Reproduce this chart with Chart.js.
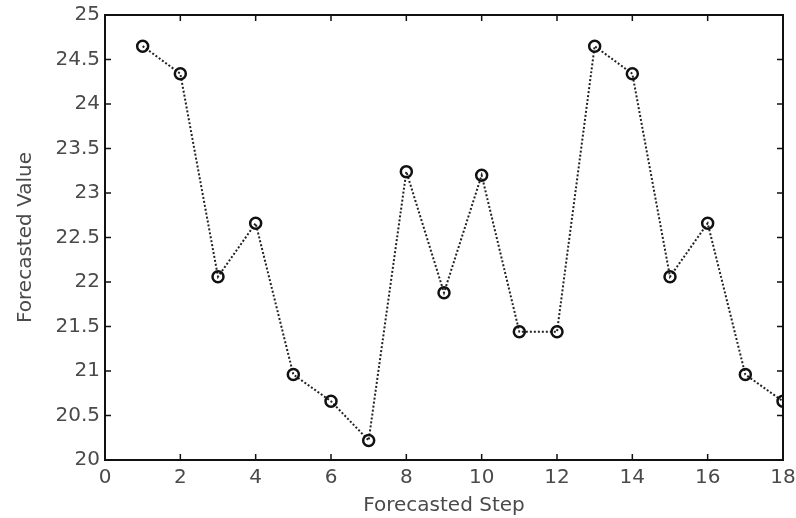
<!DOCTYPE html>
<html lang="en">
<head>
    <meta charset="UTF-8">
    <title>Forecasted Value</title>
    <script src="https://cdn.jsdelivr.net/npm/chart.js"></script>
    <style>
        html, body { margin: 0; padding: 0; background: #fff; overflow: hidden; }
        #wrap { width: 796px; height: 518px; }
    </style>
</head>
<body>
    <div id="wrap"><canvas id="forecastChart"></canvas></div>

    <script>
        // Data
        const steps = [1, 2, 3, 4, 5, 6, 7, 8, 9, 10, 11, 12, 13, 14, 15, 16, 17, 18];
        const forecastValues = [24.65, 24.34, 22.06, 22.66, 20.96, 20.66, 20.22, 23.24, 21.88,
                                23.2, 21.44, 21.44, 24.65, 24.34, 22.06, 22.66, 20.96, 20.66];
        const xTicks = [0, 2, 4, 6, 8, 10, 12, 14, 16, 18];
        const yTicks = [20, 20.5, 21, 21.5, 22, 22.5, 23, 23.5, 24, 24.5, 25];

        const textColor = '#4a4a4a';
        const fontFamily = '"DejaVu Sans", Arial, sans-serif';

        // box around the plot with ticks pointing inward (matlab style)
        const boxTicks = {
            id: 'boxTicks',
            afterDraw(chart) {
                const { ctx, chartArea: a, scales: { x, y } } = chart;
                const len = 6;
                ctx.save();
                ctx.strokeStyle = '#111';
                ctx.lineWidth = 2;
                ctx.strokeRect(a.left, a.top, a.right - a.left, a.bottom - a.top);
                ctx.lineWidth = 1.5;
                ctx.beginPath();
                xTicks.forEach(v => {
                    const px = x.getPixelForValue(v);
                    ctx.moveTo(px, a.bottom); ctx.lineTo(px, a.bottom - len);
                    ctx.moveTo(px, a.top); ctx.lineTo(px, a.top + len);
                });
                yTicks.forEach(v => {
                    const py = y.getPixelForValue(v);
                    ctx.moveTo(a.left, py); ctx.lineTo(a.left + len, py);
                    ctx.moveTo(a.right, py); ctx.lineTo(a.right - len, py);
                });
                ctx.stroke();
                ctx.restore();
            }
        };

        const ctx = document.getElementById('forecastChart').getContext('2d');
        const chart = new Chart(ctx, {
            type: 'line',
            data: {
                datasets: [{
                    label: 'Forecast',
                    data: steps.map((s, i) => ({ x: s, y: forecastValues[i] })),
                    borderColor: '#222',
                    borderWidth: 2,
                    borderDash: [2, 2],
                    pointStyle: 'circle',
                    pointRadius: 5.5,
                    pointBorderWidth: 2.5,
                    pointBorderColor: '#111',
                    pointBackgroundColor: 'rgba(255,255,255,0)',
                    tension: 0,
                    fill: false
                }]
            },
            options: {
                responsive: true,
                maintainAspectRatio: false,
                animation: false,
                layout: { padding: { top: 15, right: 13, left: 0, bottom: 0 } },
                plugins: {
                    legend: { display: false },
                    tooltip: { enabled: false }
                },
                scales: {
                    x: {
                        type: 'linear',
                        min: 0,
                        max: 18,
                        afterBuildTicks: s => { s.ticks = xTicks.map(v => ({ value: v })); },
                        afterFit: s => { s.height = 58; s.paddingLeft = 0; s.paddingRight = 0; },
                        grid: { display: false, drawTicks: false },
                        border: { display: false },
                        ticks: {
                            color: textColor,
                            font: { family: fontFamily, size: 20 },
                            padding: 6,
                            maxRotation: 0
                        },
                        title: {
                            display: true,
                            text: 'Forecasted Step',
                            color: textColor,
                            font: { family: fontFamily, size: 20 },
                            padding: { top: 0, bottom: 0 }
                        }
                    },
                    y: {
                        min: 20,
                        max: 25,
                        afterBuildTicks: s => { s.ticks = yTicks.map(v => ({ value: v })); },
                        afterFit: s => { s.width = 105; s.paddingTop = 0; s.paddingBottom = 0; },
                        grid: { display: false, drawTicks: false },
                        border: { display: false },
                        ticks: {
                            color: textColor,
                            font: { family: fontFamily, size: 20 },
                            padding: 5,
                            callback: v => String(v)
                        },
                        title: {
                            display: true,
                            text: 'Forecasted Value',
                            color: textColor,
                            font: { family: fontFamily, size: 20 },
                            padding: { top: 14, bottom: 0 }
                        }
                    }
                }
            },
            plugins: [boxTicks]
        });
    </script>
</body>
</html>
